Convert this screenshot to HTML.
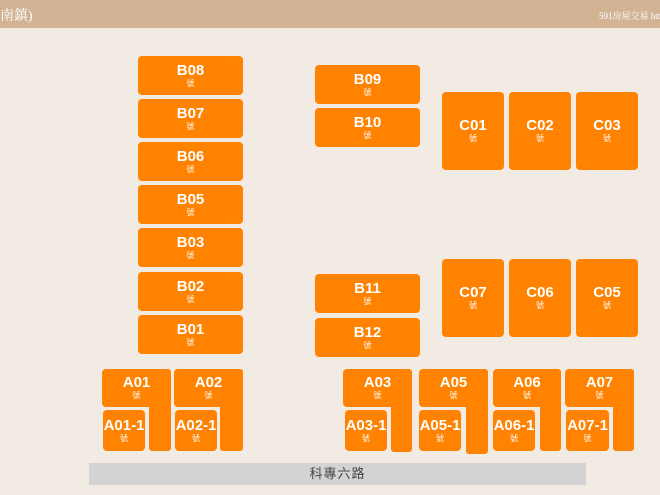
<!DOCTYPE html>
<html><head><meta charset="utf-8"><style>
*{margin:0;padding:0;box-sizing:border-box}
body{width:660px;height:495px;background:#f1ebe4;position:relative;overflow:hidden;font-family:"Liberation Sans","Noto Sans CJK TC",sans-serif}
.hd{position:absolute;left:0;top:0;width:660px;height:28px;background:#d2b495;color:#fff}
.hd .l{position:absolute;left:0;top:5px;font-size:14px;font-family:"Liberation Serif","Noto Serif CJK SC",serif}
.hd .r{position:absolute;left:599px;top:9px;font-size:9px;font-family:"Liberation Serif","Noto Serif CJK SC",serif;white-space:nowrap}
.b{position:absolute;background:#ff8200;border-radius:4px;color:#fff;display:flex;flex-direction:column;align-items:center;justify-content:center;text-align:center}
.b .n{font-size:15px;font-weight:bold;line-height:16px}
.b .s{font-size:8px;line-height:10px}
.c{position:absolute;background:#ff8200;border-radius:3px}
.road{position:absolute;left:89px;top:463px;width:497px;height:22px;background:#d3d3d3;color:#444;font-size:13px;text-align:center;line-height:22px;letter-spacing:1px}
</style></head><body>
<div class="hd"><span class="l">南鎮)</span><span class="r">591房屋交易 htt</span></div>

<div class="b" style="left:138px;top:56px;width:105px;height:39px"><span class="n">B08</span><span class="s">號</span></div>
<div class="b" style="left:138px;top:99px;width:105px;height:39px"><span class="n">B07</span><span class="s">號</span></div>
<div class="b" style="left:138px;top:142px;width:105px;height:39px"><span class="n">B06</span><span class="s">號</span></div>
<div class="b" style="left:138px;top:185px;width:105px;height:39px"><span class="n">B05</span><span class="s">號</span></div>
<div class="b" style="left:138px;top:228px;width:105px;height:39px"><span class="n">B03</span><span class="s">號</span></div>
<div class="b" style="left:138px;top:272px;width:105px;height:39px"><span class="n">B02</span><span class="s">號</span></div>
<div class="b" style="left:138px;top:315px;width:105px;height:39px"><span class="n">B01</span><span class="s">號</span></div>

<div class="b" style="left:315px;top:65px;width:105px;height:39px"><span class="n">B09</span><span class="s">號</span></div>
<div class="b" style="left:315px;top:108px;width:105px;height:39px"><span class="n">B10</span><span class="s">號</span></div>
<div class="b" style="left:315px;top:274px;width:105px;height:39px"><span class="n">B11</span><span class="s">號</span></div>
<div class="b" style="left:315px;top:318px;width:105px;height:39px"><span class="n">B12</span><span class="s">號</span></div>

<div class="b" style="left:442px;top:92px;width:62px;height:78px"><span class="n">C01</span><span class="s">號</span></div>
<div class="b" style="left:509px;top:92px;width:62px;height:78px"><span class="n">C02</span><span class="s">號</span></div>
<div class="b" style="left:576px;top:92px;width:62px;height:78px"><span class="n">C03</span><span class="s">號</span></div>
<div class="b" style="left:442px;top:259px;width:62px;height:78px"><span class="n">C07</span><span class="s">號</span></div>
<div class="b" style="left:509px;top:259px;width:62px;height:78px"><span class="n">C06</span><span class="s">號</span></div>
<div class="b" style="left:576px;top:259px;width:62px;height:78px"><span class="n">C05</span><span class="s">號</span></div>

<!-- A row -->
<div class="c" style="left:149px;top:369px;width:22px;height:82px"></div>
<div class="b" style="left:102px;top:369px;width:69px;height:38px"><span class="n">A01</span><span class="s">號</span></div>
<div class="b" style="left:103px;top:410px;width:42px;height:41px"><span class="n">A01-1</span><span class="s">號</span></div>

<div class="c" style="left:220px;top:369px;width:23px;height:82px"></div>
<div class="b" style="left:174px;top:369px;width:69px;height:38px"><span class="n">A02</span><span class="s">號</span></div>
<div class="b" style="left:175px;top:410px;width:42px;height:41px"><span class="n">A02-1</span><span class="s">號</span></div>

<div class="c" style="left:391px;top:369px;width:21px;height:83px"></div>
<div class="b" style="left:343px;top:369px;width:69px;height:38px"><span class="n">A03</span><span class="s">號</span></div>
<div class="b" style="left:345px;top:410px;width:42px;height:41px"><span class="n">A03-1</span><span class="s">號</span></div>

<div class="c" style="left:466px;top:369px;width:22px;height:85px"></div>
<div class="b" style="left:419px;top:369px;width:69px;height:38px"><span class="n">A05</span><span class="s">號</span></div>
<div class="b" style="left:419px;top:410px;width:42px;height:41px"><span class="n">A05-1</span><span class="s">號</span></div>

<div class="c" style="left:540px;top:369px;width:21px;height:82px"></div>
<div class="b" style="left:493px;top:369px;width:68px;height:38px"><span class="n">A06</span><span class="s">號</span></div>
<div class="b" style="left:493px;top:410px;width:42px;height:41px"><span class="n">A06-1</span><span class="s">號</span></div>

<div class="c" style="left:613px;top:369px;width:21px;height:82px"></div>
<div class="b" style="left:565px;top:369px;width:69px;height:38px"><span class="n">A07</span><span class="s">號</span></div>
<div class="b" style="left:566px;top:410px;width:43px;height:41px"><span class="n">A07-1</span><span class="s">號</span></div>

<div class="road">科專六路</div>
</body></html>
